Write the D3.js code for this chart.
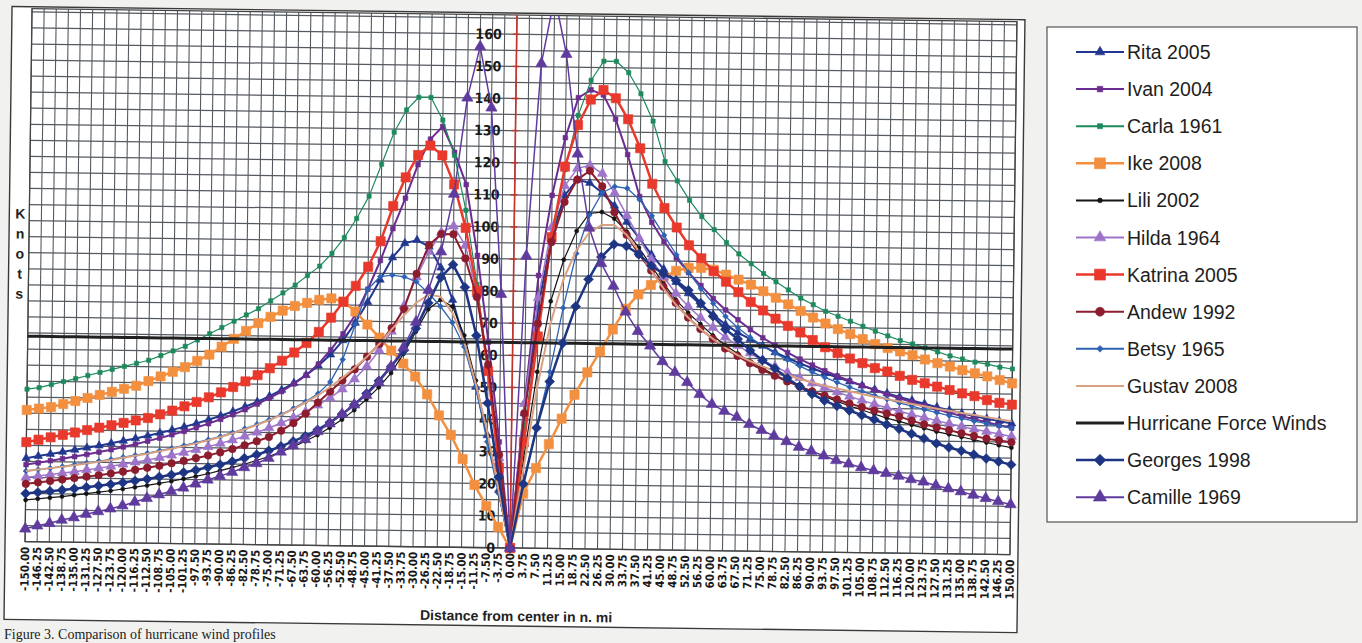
<!DOCTYPE html>
<html>
<head>
<meta charset="utf-8">
<script src="https://cdn.jsdelivr.net/npm/d3@7"></script>
<style>
html,body{margin:0;padding:0;background:#f1f1ef;overflow:hidden}
text{font-family:"Liberation Sans",Arial,sans-serif}
</style>
</head>
<body>
<svg id="chart" width="1362" height="643"></svg>
<script>
// ---------- DATA ----------
const distances = [-150,-146.25,-142.5,-138.75,-135,-131.25,-127.5,-123.75,-120,-116.25,-112.5,-108.75,-105,-101.25,-97.5,-93.75,-90,-86.25,-82.5,-78.75,-75,-71.25,-67.5,-63.75,-60,-56.25,-52.5,-48.75,-45,-41.25,-37.5,-33.75,-30,-26.25,-22.5,-18.75,-15,-11.25,-7.5,-3.75,0,3.75,7.5,11.25,15,18.75,22.5,26.25,30,33.75,37.5,41.25,45,48.75,52.5,56.25,60,63.75,67.5,71.25,75,78.75,82.5,86.25,90,93.75,97.5,101.25,105,108.75,112.5,116.25,120,123.75,127.5,131.25,135,138.75,142.5,146.25,150];
const yTickLabels = [0,10,20,30,40,50,60,70,80,90,100,110,120,130,140,150,160];
const seriesNames = ["Rita 2005","Ivan 2004","Carla 1961","Ike 2008","Lili 2002","Hilda 1964","Katrina 2005","Andew 1992","Betsy 1965","Gustav 2008","Hurricane Force Winds","Georges 1998","Camille 1969"];

const rita = [26,26.7,27.4,28.1,28.8,29.5,30.2,31,31.8,32.6,33.5,34.4,35.4,36.4,37.5,38.7,40,41.4,42.9,44.5,46.3,48.3,50.5,53,56,59.5,64,69.5,76,83,90,94.5,95.5,93.5,87,77,64,50,35,18,0,
  42,75,97,110,115,114,111,107,102,97,92,87.5,83.5,80,76.5,73.5,70.5,68,66,64,62,60.3,58.7,57.2,55.8,54.5,53.2,52,50.8,49.7,48.6,47.6,46.6,45.6,44.7,43.8,43,42.2,41.5,40.8];
const ivan = [24,24.6,25.3,26,26.7,27.4,28.2,29,29.9,30.8,31.8,32.8,33.9,35,36.2,37.5,38.9,40.4,42,43.8,45.7,47.8,50.2,53,56.5,61,66,72,80,89,99,108.5,119,127,131,123,113,91,64,33,0,
  45,85,110,128,140.5,143,141.5,134,123,110,102,96,91,86.5,82.5,78.5,75,72,69,66.5,64.2,62,60,58.2,56.5,54.9,53.4,52,50.7,49.4,48.2,47.1,46,44.9,43.9,42.9,42,41.1,40.2,39.4];
const carla = [47.5,48,49,50,51,52,53,54,55,56,57,58.5,60,61.5,63.5,65.5,67.5,69.5,71.5,73.5,76,78.5,81,84,87,91,96,102,109,119,129,136,140,140,133,122,105,82,55,27,0,
  37,67,95,118,135,146,152,152,148.5,142,133.5,121,115,109,104,100,96,92.5,89.5,86.5,84,81.5,79,77,75,73.5,72,70.5,69,67.6,66.2,65.2,64,62.8,61.6,60.7,59.8,59.2,58.3,57.8];
const ike = [41,41.5,42,43,44,45,46,47,48,49,50.5,52,53.5,55,57,59,61.5,64,66.5,69,71,73,74.5,75.5,76.5,77,76,73,69,65,61,57,53,47.5,41,35,27.5,19.5,13,6.5,0,
  17,25,32.5,40.5,48,55,61.5,68.5,75,79.5,82.5,85,87,88,88,87.5,86,84.5,83,81,79,77,75,73,71.2,69.5,68,66.5,65,63.8,62.8,61.7,60.4,59.3,58.3,57.2,56.3,55.4,54.3,53.3];
const lili = [13,13.4,13.8,14.2,14.7,15.2,15.7,16.2,16.8,17.4,18,18.7,19.4,20.2,21,21.9,22.9,23.9,25,26.2,27.5,29,30.6,32.4,34.4,36.7,39.3,42.3,45.7,49.5,54,60,67,74,77,75,66,52,35,17,0,
  28,55,77,90,99,104.5,105,103,99,94,88.5,83,78,74,70.5,67,64,61.5,59,57,55,53.2,51.5,50,48.5,47,45.7,44.4,43.2,42,41,40,39,38,37.2,36.4,35.6,34.8,34,33.3];
const hilda = [20,20.5,21,21.5,22,22.6,23.2,23.8,24.5,25.2,25.9,26.7,27.5,28.4,29.3,30.3,31.4,32.5,33.7,35,36.4,38,39.7,41.6,43.7,46,48.8,52,56,61,67,75,84,92,98,100,94,79,56,28,0,
  45,78,100,113,118.5,119.5,117,111,104,97,90.5,85,80,76,72.5,69.5,66.5,64,61.7,59.5,57.6,55.8,54.2,52.6,51.2,49.9,48.6,47.4,46.3,45.2,44.2,43.2,42.3,41.4,40.5,39.7,38.9,38.2,37.5,36.8];
const katrina = [31,31.8,32.6,33.4,34.2,35,35.8,36.6,37.4,38.2,39,40.2,41.4,42.8,44.2,45.7,47.3,49,50.8,52.8,55,57.4,60,63,66.5,71,76,81,87,95,106,115,122,125,122,113,99.5,80,55,25,0,
  33,66,97,119,132,140,143,140.5,134,125,114,106.5,100.5,95,91,87,83.8,80.6,77.6,75,72.5,70.3,68.3,66,63.8,62,60.4,59,57.5,56.5,55.2,54,53,52,51,50,49.2,48,47.2,46.7];
const andrew = [18,18.5,19,19.5,20,20.5,21,21.6,22.2,22.8,23.5,24.2,25,25.8,26.7,27.6,28.6,29.7,30.9,32.2,33.6,35.6,38,41,44.5,48,51.5,55,59,63,68,74,85,94,97.5,97.5,90,78,57,29,0,
  42,70,95.5,108,115,117.8,113,105,98,92,87,82,77,72.5,69,66,63,60.7,58.5,56.5,54.7,53,51.5,50,48.8,47.6,46.4,45.3,44.3,43.4,42.5,41.3,40.2,39.3,38.5,37.6,36.8,36,35.5,35];
const betsy = [22,22.5,23,23.6,24.2,24.8,25.4,26,26.7,27.4,28.1,28.9,29.7,30.6,31.5,32.5,33.6,34.8,36.1,37.5,39,40.7,42.6,44.8,47.3,51,58,69,80,84,84.5,84,82.5,79,75,70,62.5,50,33,17,0,
  20,38,55,75,92,104,111,113,112.5,109,104,98,92,86.5,81.5,77,73,69.5,66.5,64,61.7,59.7,57.8,56,54.4,52.9,51.5,50.2,49,47.9,46.8,45.8,44.8,43.9,43,42.2,41.4,40.7,40,39.4];
const gustav = [22,22.5,23,23.5,24,24.6,25.2,25.8,26.5,27.2,27.9,28.7,29.5,30.4,31.3,32.3,33.4,34.6,35.9,37.3,38.8,40.5,42.4,44.5,46.8,49.4,52.3,55.5,59,63,67.5,72,76,78.5,78,73,64,51,36,18,0,
  25,50,70,84,93,98.5,101,101,98,93,87,81.5,76.5,72.5,69,66,63.3,61,59.2,57.6,56.2,55,53.8,52.8,51.8,51,50.2,49.4,48.6,47.9,47.2,46.5,45.8,45.1,44.5,43.9,43.3,42.7,42.1,41.5];
const hurricaneForce = [64,64,64,64,64,64,64,64,64,64,64,64,64,64,64,64,64,64,64,64,64,64,64,64,64,64,64,64,64,64,64,64,64,64,64,64,64,64,64,64,64,
  64,64,64,64,64,64,64,64,64,64,64,64,64,64,64,64,64,64,64,64,64,64,64,64,64,64,64,64,64,64,64,64,64,64,64,64,64,64,64,64];
const georges = [15,15.4,15.8,16.2,16.7,17.2,17.7,18.2,18.8,19.4,20,20.7,21.4,22.2,23,23.9,24.8,25.8,26.9,28,29.3,30.7,32.3,34,36,38.3,41,44,47.5,51.5,56,61,68,76,84,88,81,66,45,22,0,
  20,37.5,52,64,75.5,84,91,95,94.5,92,88.5,86,84,81,77,73,69,66,62.5,59.5,57,54,51.5,49.2,47.2,45.6,44.2,42.8,41.5,40,38.7,37.2,35.8,34.3,33.1,32.1,31,29.8,28.9,28];
const camille = [4,5,5.8,6.9,7.7,8.8,9.7,10.6,11.6,12.8,14,15.2,16.3,17.4,18.7,20,21.2,22.5,24,25.3,27,29,31,33,35.5,38,41,44,47,51,56,62,70,80,92,110,140,156,137,79,0,
  91,151,172,154,123,100,89,82,74,68,63.5,58.7,55.4,52.3,48.6,45.6,43.5,41.7,39.5,37.7,36,34.3,32.6,31.4,30,28.6,27.6,26.5,25.6,24.8,24,23,22.3,21.2,20.3,19.4,18.4,17.4,16.5,15.6];

// ---------- STYLES ----------
const seriesValues = [rita,ivan,carla,ike,lili,hilda,katrina,andrew,betsy,gustav,hurricaneForce,georges,camille];
const styles = [
  {color:"#22378f", sym:"tri", size:30, lw:2},
  {color:"#6b2d8f", sym:"sq", size:22, lw:2},
  {color:"#1c8a5c", sym:"sq", size:18, lw:1.2},
  {color:"#f39040", sym:"sq", size:85, lw:2.5},
  {color:"#151515", sym:"circ", size:13, lw:1.2},
  {color:"#9d74c9", sym:"tri", size:42, lw:1.5},
  {color:"#e8392c", sym:"sq", size:85, lw:2.5},
  {color:"#8c1d2e", sym:"circ", size:45, lw:2},
  {color:"#2e62b3", sym:"dia", size:16, lw:1.3},
  {color:"#d9a183", sym:null, lw:2},
  {color:"#202020", sym:null, lw:3},
  {color:"#1d3582", sym:"dia", size:48, lw:2.5},
  {color:"#5f3b9e", sym:"tri", size:55, lw:1.5}
];
const symType = {tri:d3.symbolTriangle, sq:d3.symbolSquare, circ:d3.symbolCircle, dia:d3.symbolSquare};

// ---------- LAYOUT ----------
const svg = d3.select("#chart");
const x = d3.scaleLinear().domain([-150,0,150]).range([25,510,1010]);
const y = d3.scaleLinear().domain([0,166]).range([548,15]);

svg.append("rect").attr("x",0).attr("y",0).attr("width",1362).attr("height",643).attr("fill","#f1f1ef");

const g = svg.append("g").attr("transform","rotate(0.75,510,548)");

// chart area
g.append("rect").attr("x",5).attr("y",13).attr("width",1013).attr("height",613)
  .attr("fill","#ffffff").attr("stroke","#3a3a3a").attr("stroke-width",1.4);

// grid
const hGrid = d3.range(0,166,5);
g.append("g").selectAll("line").data(hGrid).join("line")
  .attr("x1",x(-150)).attr("x2",x(150)).attr("y1",d=>y(d)).attr("y2",d=>y(d))
  .attr("stroke","#555a60").attr("stroke-width",1.25);
g.append("g").selectAll("line").data(distances).join("line")
  .attr("x1",d=>x(d)).attr("x2",d=>x(d)).attr("y1",y(0)).attr("y2",y(166))
  .attr("stroke","#555a60").attr("stroke-width",1.1);
g.append("rect").attr("x",x(-150)).attr("y",y(166)).attr("width",x(150)-x(-150)).attr("height",y(0)-y(166))
  .attr("fill","none").attr("stroke","#444").attr("stroke-width",1.3);

// value axis (red) at 0
g.append("line").attr("x1",x(0)).attr("x2",x(0)).attr("y1",y(0)).attr("y2",y(166))
  .attr("stroke","#c0342c").attr("stroke-width",1.6);
g.append("g").selectAll("line").data(yTickLabels).join("line")
  .attr("x1",x(0)-4).attr("x2",x(0)+3).attr("y1",d=>y(d)).attr("y2",d=>y(d))
  .attr("stroke","#c0342c").attr("stroke-width",1.4);
g.append("g").selectAll("text").data(yTickLabels).join("text")
  .attr("x",x(0)-15).attr("y",d=>y(d)).attr("dy","0.36em").attr("text-anchor","end")
  .style("font-family","'Liberation Sans Narrow','DejaVu Sans Condensed',Arial,sans-serif")
  .style("font-weight","bold").style("font-size","14px").attr("fill","#1a1a1a")
  .text(d=>d);

// category labels
g.append("g").selectAll("text").data(distances).join("text")
  .attr("transform",d=>`translate(${x(d)},553) rotate(-90)`)
  .attr("dy","0.36em").attr("text-anchor","end")
  .style("font-family","'Liberation Sans Narrow','DejaVu Sans Condensed',Arial,sans-serif")
  .style("font-weight","bold").style("font-size","11.5px").attr("fill","#1a1a1a")
  .text(d=>d.toFixed(2));

// axis titles
g.append("text").attr("x",517).attr("y",621).attr("text-anchor","middle")
  .style("font-weight","bold").style("font-size","14px").attr("fill","#222")
  .text("Distance from center in n. mi");
const knots = ["K","n","o","t","s"];
g.append("g").selectAll("text").data(knots).join("text")
  .attr("x",16).attr("y",(d,i)=>225+i*20).attr("text-anchor","middle")
  .style("font-weight","bold").style("font-size","14px").attr("fill","#222")
  .text(d=>d);

// series
svg.append("clipPath").attr("id","clip").append("rect").attr("x",0).attr("y",y(166)).attr("width",1100).attr("height",620);
const plot = g.append("g").attr("clip-path","url(#clip)");
const line = d3.line().x((v,i)=>x(distances[i])).y(v=>y(v));

function drawMarker(sel, st, px, py, scale){
  if(!st.sym) return;
  const p = d3.symbol().type(symType[st.sym]).size(st.size*scale)();
  sel.append("path").attr("d",p)
    .attr("transform",`translate(${px},${py})${st.sym==="dia"?" rotate(45)":""}`)
    .attr("fill",st.color).attr("stroke",st.color).attr("stroke-width",0.6);
}

seriesValues.forEach((vals,k)=>{
  const st = styles[k];
  const sg = plot.append("g");
  sg.append("path").attr("d",line(vals)).attr("fill","none")
    .attr("stroke",st.color).attr("stroke-width",st.lw).attr("stroke-linejoin","round");
  if(st.sym){
    vals.forEach((v,i)=>drawMarker(sg, st, x(distances[i]), y(v), 1));
  }
});

// caption
svg.append("text").attr("x",4).attr("y",639)
  .style("font-family","'Liberation Serif','Times New Roman',serif").style("font-size","14px").attr("fill","#222")
  .text("Figure 3. Comparison of hurricane wind profiles");

// legend
const lg = svg.append("g");
lg.append("rect").attr("x",1047).attr("y",27).attr("width",310).attr("height",495)
  .attr("fill","#ffffff").attr("stroke","#555").attr("stroke-width",1.2);
seriesNames.forEach((name,k)=>{
  const st = styles[k];
  const ly = 52 + k*37.1;
  lg.append("line").attr("x1",1076).attr("x2",1124).attr("y1",ly).attr("y2",ly)
    .attr("stroke",st.color).attr("stroke-width",Math.max(st.lw,2));
  drawMarker(lg, st, 1100, ly, 1.4);
  lg.append("text").attr("x",1127).attr("y",ly).attr("dy","0.36em")
    .style("font-size","19.5px").attr("fill","#1e1e1e").text(name);
});
</script>
</body>
</html>
